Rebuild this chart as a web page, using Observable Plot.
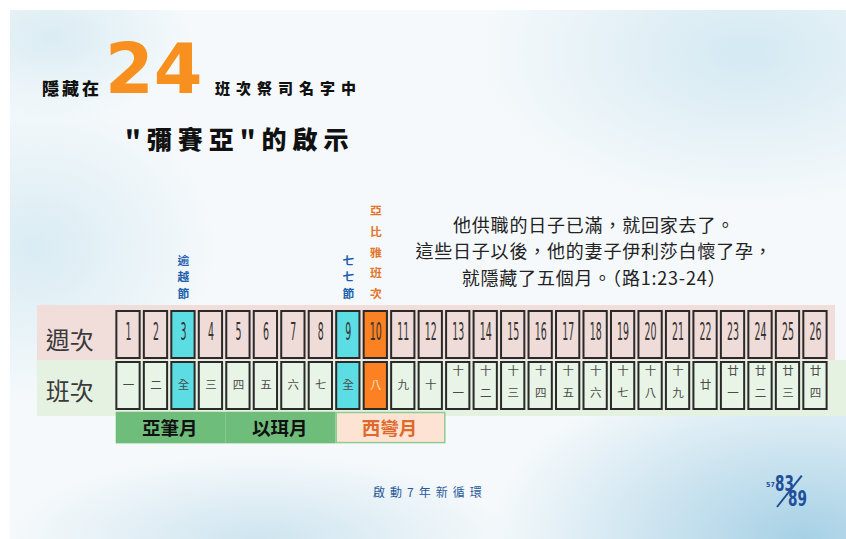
<!DOCTYPE html>
<html><head><meta charset="utf-8">
<script src="https://cdn.jsdelivr.net/npm/d3@7"></script>
<script src="https://cdn.jsdelivr.net/npm/@observablehq/plot@0.6"></script>
<style>
html,body{margin:0;padding:0;width:846px;height:539px;overflow:hidden;background:#fff;}
#slide{position:absolute;left:10px;top:10px;width:836px;height:529px;
 background:
 radial-gradient(ellipse 420px 240px at 95% 100%, rgba(140,195,222,0.75), rgba(140,195,222,0) 75%),
 radial-gradient(ellipse 380px 220px at 88% 8%, rgba(185,220,235,0.55), rgba(185,220,235,0) 70%),
 radial-gradient(ellipse 260px 220px at 3% 45%, rgba(195,225,237,0.55), rgba(195,225,237,0) 70%),
 radial-gradient(ellipse 360px 120px at 30% 100%, rgba(175,212,230,0.55), rgba(175,212,230,0) 70%),
 radial-gradient(ellipse 200px 120px at 5% 5%, rgba(200,228,238,0.6), rgba(200,228,238,0) 70%),
 #f5f9fb;}
.band{position:absolute;}
#pink{left:37px;top:305px;width:798px;height:55px;background:#f1dedb;}
#green{left:37px;top:360px;width:809px;height:56px;background:#e5f2e2;}
#chart{position:absolute;left:0;top:0;}
.t{position:absolute;white-space:nowrap;font-family:"Noto Sans CJK TC","Noto Sans CJK SC",sans-serif;}
#t1{left:42px;top:78.5px;font-size:17px;line-height:17px;font-weight:900;letter-spacing:3px;color:#111;}
#t24{left:105px;top:33.8px;font-family:"DejaVu Sans",sans-serif;font-weight:bold;font-size:70px;line-height:70px;color:#f7901e;}
#t3{left:215px;top:79.5px;font-size:15px;line-height:15px;font-weight:900;letter-spacing:6px;color:#111;}
#t4{left:125px;top:126px;font-size:25px;line-height:25px;font-weight:900;letter-spacing:6px;color:#111;}
#verse{left:374px;top:210.5px;width:440px;text-align:center;font-size:18px;line-height:26.8px;letter-spacing:0.8px;color:#222;}
#foot{left:373px;top:486.3px;font-size:12px;line-height:12px;letter-spacing:5px;color:#2a5a9a;}
.pn{position:absolute;font-family:"Liberation Sans Narrow","DejaVu Sans Condensed",sans-serif;font-weight:bold;color:#1f4f9a;transform-origin:0 50%;}
#p57{left:766px;top:482px;font-size:7px;line-height:7px;}
#p83{left:775px;top:477.2px;font-size:21px;line-height:15px;transform:scaleX(0.72);}
#p89{left:788px;top:492.4px;font-size:21px;line-height:15px;transform:scaleX(0.72);}
#slash{position:absolute;left:776.7px;top:505.7px;width:40.4px;height:2px;background:#1f4f9a;transform-origin:0 50%;transform:rotate(-51.7deg);}
</style></head><body>
<div id="slide"></div>
<div id="pink" class="band"></div>
<div id="green" class="band"></div>
<div id="chart"></div>
<div class="t" id="t1">隱藏在</div>
<div class="t" id="t24">24</div>
<div class="t" id="t3">班次祭司名字中</div>
<div class="t" id="t4">"彌賽亞"的啟示</div>
<div class="t" id="verse">他供職的日子已滿，就回家去了。<br>這些日子以後，他的妻子伊利莎白懷了孕，<br>就隱藏了五個月。（路1:23-24）</div>
<div class="t" id="foot">啟動7年新循環</div>
<div class="pn" id="p57">57</div>
<div class="pn" id="p83">83</div>
<div id="slash"></div>
<div class="pn" id="p89">89</div>
<script>
// ---- data ----
const weeks = [1,2,3,4,5,6,7,8,9,10,11,12,13,14,15,16,17,18,19,20,21,22,23,24,25,26];
const courseLabels = ["一","二","全","三","四","五","六","七","全","八","九","十",
  "十一","十二","十三","十四","十五","十六","十七","十八","十九","廿",
  "廿一","廿二","廿三","廿四"];
const feastWeeks = [3, 9];
const abijahWeeks = [10];
const feasts = [{week: 3, label: "逾越節"}, {week: 9, label: "七七節"}];
const abijah = [{week: 10, label: "亞比雅班次"}];
const monthNames = ["亞筆月", "以珥月", "西彎月"];
const monthStart = [1, 5, 9];
const monthEnd = [4, 8, 12];
const rowLabels = ["週次", "班次"];
const rows = ["週次", "班次", "月份"];

// ---- colours ----
const cPinkCell = "#efdcd8", cGreenCell = "#e8f4e6", cCyan = "#5cdde3", cOrange = "#fb8122";
const fillFor = (w, base) => abijahWeeks.includes(w) ? cOrange : feastWeeks.includes(w) ? cCyan : base;

const courses = weeks.map((w, i) => ({week: w, label: courseLabels[i]}));
const oneLine = courses.filter(d => d.label.length === 1);
const twoLine = courses.filter(d => d.label.length === 2).map(d => ({week: d.week, label: d.label.split("").join("\n")}));
const months = monthNames.map((n, i) => ({name: n, start: monthStart[i], end: monthEnd[i], sivan: i === 2}));

const chart = Plot.plot({
  width: 846, height: 539,
  marginLeft: 114.26, marginRight: 17.3, marginTop: 308.3, marginBottom: 76.8,
  x: {domain: [0.5, 26.5], axis: null},
  y: {type: "band", domain: rows, paddingInner: 0.04, paddingOuter: 0.02, axis: null},
  color: {type: "identity"},
  style: {background: "transparent", overflow: "visible"},
  marks: [
    // week cells
    Plot.barX(weeks, {x1: w => w - 0.5, x2: w => w + 0.5, y: () => "週次",
      fill: w => fillFor(w, cPinkCell), stroke: "#2a2a2a", strokeWidth: 2,
      insetLeft: 2.1, insetRight: 2.1, insetTop: 1, insetBottom: 1}),
    // course cells
    Plot.barX(weeks, {x1: w => w - 0.5, x2: w => w + 0.5, y: () => "班次",
      fill: w => fillFor(w, cGreenCell), stroke: "#2a2a2a", strokeWidth: 2,
      insetLeft: 2.1, insetRight: 2.1, insetTop: 1, insetBottom: 1}),
    // month bars
    Plot.barX(months, {x1: d => d.start - 0.5, x2: d => d.end + 0.5, y: () => "月份",
      fill: d => d.sivan ? "#fde3d3" : "#6fbd7a", stroke: d => d.sivan ? "#8fcb93" : "#6fbd7a",
      strokeWidth: 1.5, insetLeft: 2.2, insetRight: -0.8, insetTop: 0.5, insetBottom: 18.4}),
    Plot.text(months, {x: d => (d.start + d.end) / 2, y: () => "月份", text: "name",
      fill: d => d.sivan ? "#e0682a" : "#111", fontSize: 18.5, fontWeight: "bold",
      fontFamily: "Noto Sans CJK TC", dy: -8}),
    // week numbers
    Plot.text(weeks, {x: w => w, y: () => "週次", text: w => String(w), fill: "#333",
      fontSize: 24, fontFamily: "Liberation Sans Narrow, DejaVu Sans Condensed, sans-serif",
      dy: -3}),
    // course labels
    Plot.text(oneLine, {x: "week", y: () => "班次", text: "label",
      fill: d => abijahWeeks.includes(d.week) ? "#ffe0c0" : "#4a4a4a",
      fontSize: 11.5, fontFamily: "Noto Sans CJK TC", dy: -1}),
    Plot.text(twoLine, {x: "week", y: () => "班次", text: "label", fill: "#4a4a4a",
      fontSize: 11.5, lineHeight: 1.95, fontFamily: "Noto Sans CJK TC", dy: -7}),
    // row labels
    Plot.text(rowLabels, {y: d => d, text: d => d, frameAnchor: "left", dx: -45, dy: 6,
      textAnchor: "middle", fontSize: 24, fill: "#3a3a3a", fontFamily: "Noto Sans CJK TC"}),
    // festival labels
    Plot.text(feasts, {x: "week", y: () => "週次", text: d => d.label.split("").join("\n"),
      lineAnchor: "bottom", lineHeight: 1.42, dy: -37, fill: "#1d5fae",
      fontSize: 11.8, fontWeight: "bold", fontFamily: "Noto Sans CJK TC"}),
    Plot.text(abijah, {x: "week", y: () => "週次", text: d => d.label.split("").join("\n"),
      lineAnchor: "bottom", lineHeight: 1.75, dy: -37, fill: "#e2752c",
      fontSize: 11.8, fontWeight: "bold", fontFamily: "Noto Sans CJK TC"})
  ]
});
document.getElementById("chart").appendChild(chart);
// condense the week-number glyphs horizontally (tall, narrow digits)
const weekSet = new Set(weeks.map(String));
chart.querySelectorAll("text").forEach(el => {
  if (el.querySelector("tspan")) return;
  const s = el.textContent.trim();
  if (!weekSet.has(s)) return;
  el.setAttribute("textLength", String(s.length * 6));
  el.setAttribute("lengthAdjust", "spacingAndGlyphs");
});
</script>
</body></html>
